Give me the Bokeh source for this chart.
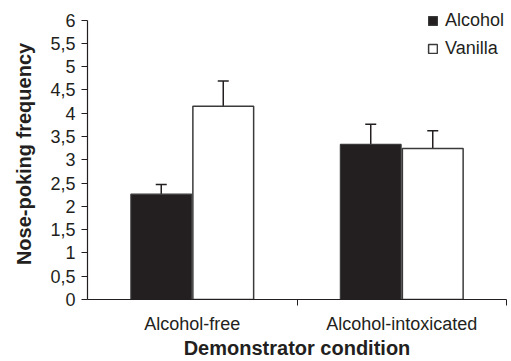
from bokeh.plotting import figure
from bokeh.models import (FixedTicker, Whisker, ColumnDataSource, Legend, LegendItem,
                          Range1d, TeeHead)
from bokeh.embed import file_html
from bokeh.resources import INLINE

categories = ["Alcohol-free", "Alcohol-intoxicated"]
alcohol = [2.26, 3.33]
alcohol_err = [0.21, 0.43]
vanilla = [4.15, 3.24]
vanilla_err = [0.54, 0.38]
y_ticks = [0, 0.5, 1, 1.5, 2, 2.5, 3, 3.5, 4, 4.5, 5, 5.5, 6]
y_labels = ["0", "0,5", "1", "1,5", "2", "2,5", "3", "3,5", "4", "4,5", "5", "5,5", "6"]

FONT = "Liberation Sans"
INK = "#231f20"

centers = [i + 0.5 for i in range(len(categories))]
off = 0.148
bw = 0.29

src_a = ColumnDataSource(dict(x=[c - off for c in centers], top=alcohol,
                              upper=[a + e for a, e in zip(alcohol, alcohol_err)]))
src_v = ColumnDataSource(dict(x=[c + off for c in centers], top=vanilla,
                              upper=[a + e for a, e in zip(vanilla, vanilla_err)]))

p = figure(width=511, height=361, output_backend="svg", toolbar_location=None,
           x_range=Range1d(0, 2), y_range=Range1d(0, 6.247),
           min_border_left=87, min_border_right=5, min_border_top=8, min_border_bottom=62)
p.outline_line_color = None
p.grid.visible = False
p.background_fill_color = "white"

for src in (src_a, src_v):
    w = Whisker(source=src, base="x", lower="top", upper="upper",
                line_color=INK, line_width=1.5,
                upper_head=TeeHead(size=11, line_color=INK, line_width=1.5),
                lower_head=None)
    p.add_layout(w)

ra = p.vbar(x="x", top="top", width=bw, source=src_a, fill_color=INK,
            line_color="#3a3a3a", line_width=1.2)
rv = p.vbar(x="x", top="top", width=bw, source=src_v, fill_color="white",
            line_color="#3a3a3a", line_width=1.5)

# Y axis
p.yaxis.ticker = FixedTicker(ticks=y_ticks, minor_ticks=[])
p.yaxis.bounds = (0, 6)
p.yaxis.major_label_overrides = {t: l for t, l in zip(y_ticks, y_labels)}
p.yaxis.axis_label = "Nose-poking frequency"
p.yaxis.axis_label_text_font = FONT
p.yaxis.axis_label_text_font_style = "bold"
p.yaxis.axis_label_text_font_size = "20px"
p.yaxis.axis_label_text_color = INK
p.yaxis.axis_label_standoff = 12
p.yaxis.major_label_text_font = FONT
p.yaxis.major_label_text_font_size = "18px"
p.yaxis.major_label_text_color = INK
p.yaxis.major_tick_out = 6
p.yaxis.major_tick_in = 0
p.yaxis.major_label_standoff = 6
p.yaxis.axis_line_color = INK
p.yaxis.major_tick_line_color = INK
p.yaxis.axis_line_width = 1.2

# X axis: labels at category centers, tick marks at boundaries
p.xaxis.ticker = FixedTicker(ticks=centers, minor_ticks=[1, 2])
p.xaxis.major_label_overrides = {c: n for c, n in zip(centers, categories)}
p.xaxis.major_tick_out = 0
p.xaxis.major_tick_in = 0
p.xaxis.minor_tick_out = 6
p.xaxis.minor_tick_in = 0
p.xaxis.minor_tick_line_color = INK
p.xaxis.axis_line_color = INK
p.xaxis.axis_line_width = 1.2
p.xaxis.major_label_text_font = FONT
p.xaxis.major_label_text_font_size = "18px"
p.xaxis.major_label_text_color = INK
p.xaxis.major_label_standoff = 8
p.xaxis.axis_label = "Demonstrator condition"
p.xaxis.axis_label_text_font = FONT
p.xaxis.axis_label_text_font_style = "bold"
p.xaxis.axis_label_text_font_size = "20px"
p.xaxis.axis_label_text_color = INK
p.xaxis.axis_label_standoff = 0

legend = Legend(items=[LegendItem(label="Alcohol", renderers=[ra]),
                       LegendItem(label="Vanilla", renderers=[rv])],
                location=(340, 240), orientation="vertical")
legend.border_line_color = None
legend.background_fill_alpha = 0
legend.glyph_width = 11
legend.glyph_height = 11
legend.label_standoff = 7
legend.spacing = 7
legend.padding = 0
legend.margin = 0
legend.label_text_font = FONT
legend.label_text_font_size = "18px"
legend.label_text_color = INK
legend.label_height = 21
p.add_layout(legend, "center")

open("out.html", "w").write(file_html(p, INLINE))
